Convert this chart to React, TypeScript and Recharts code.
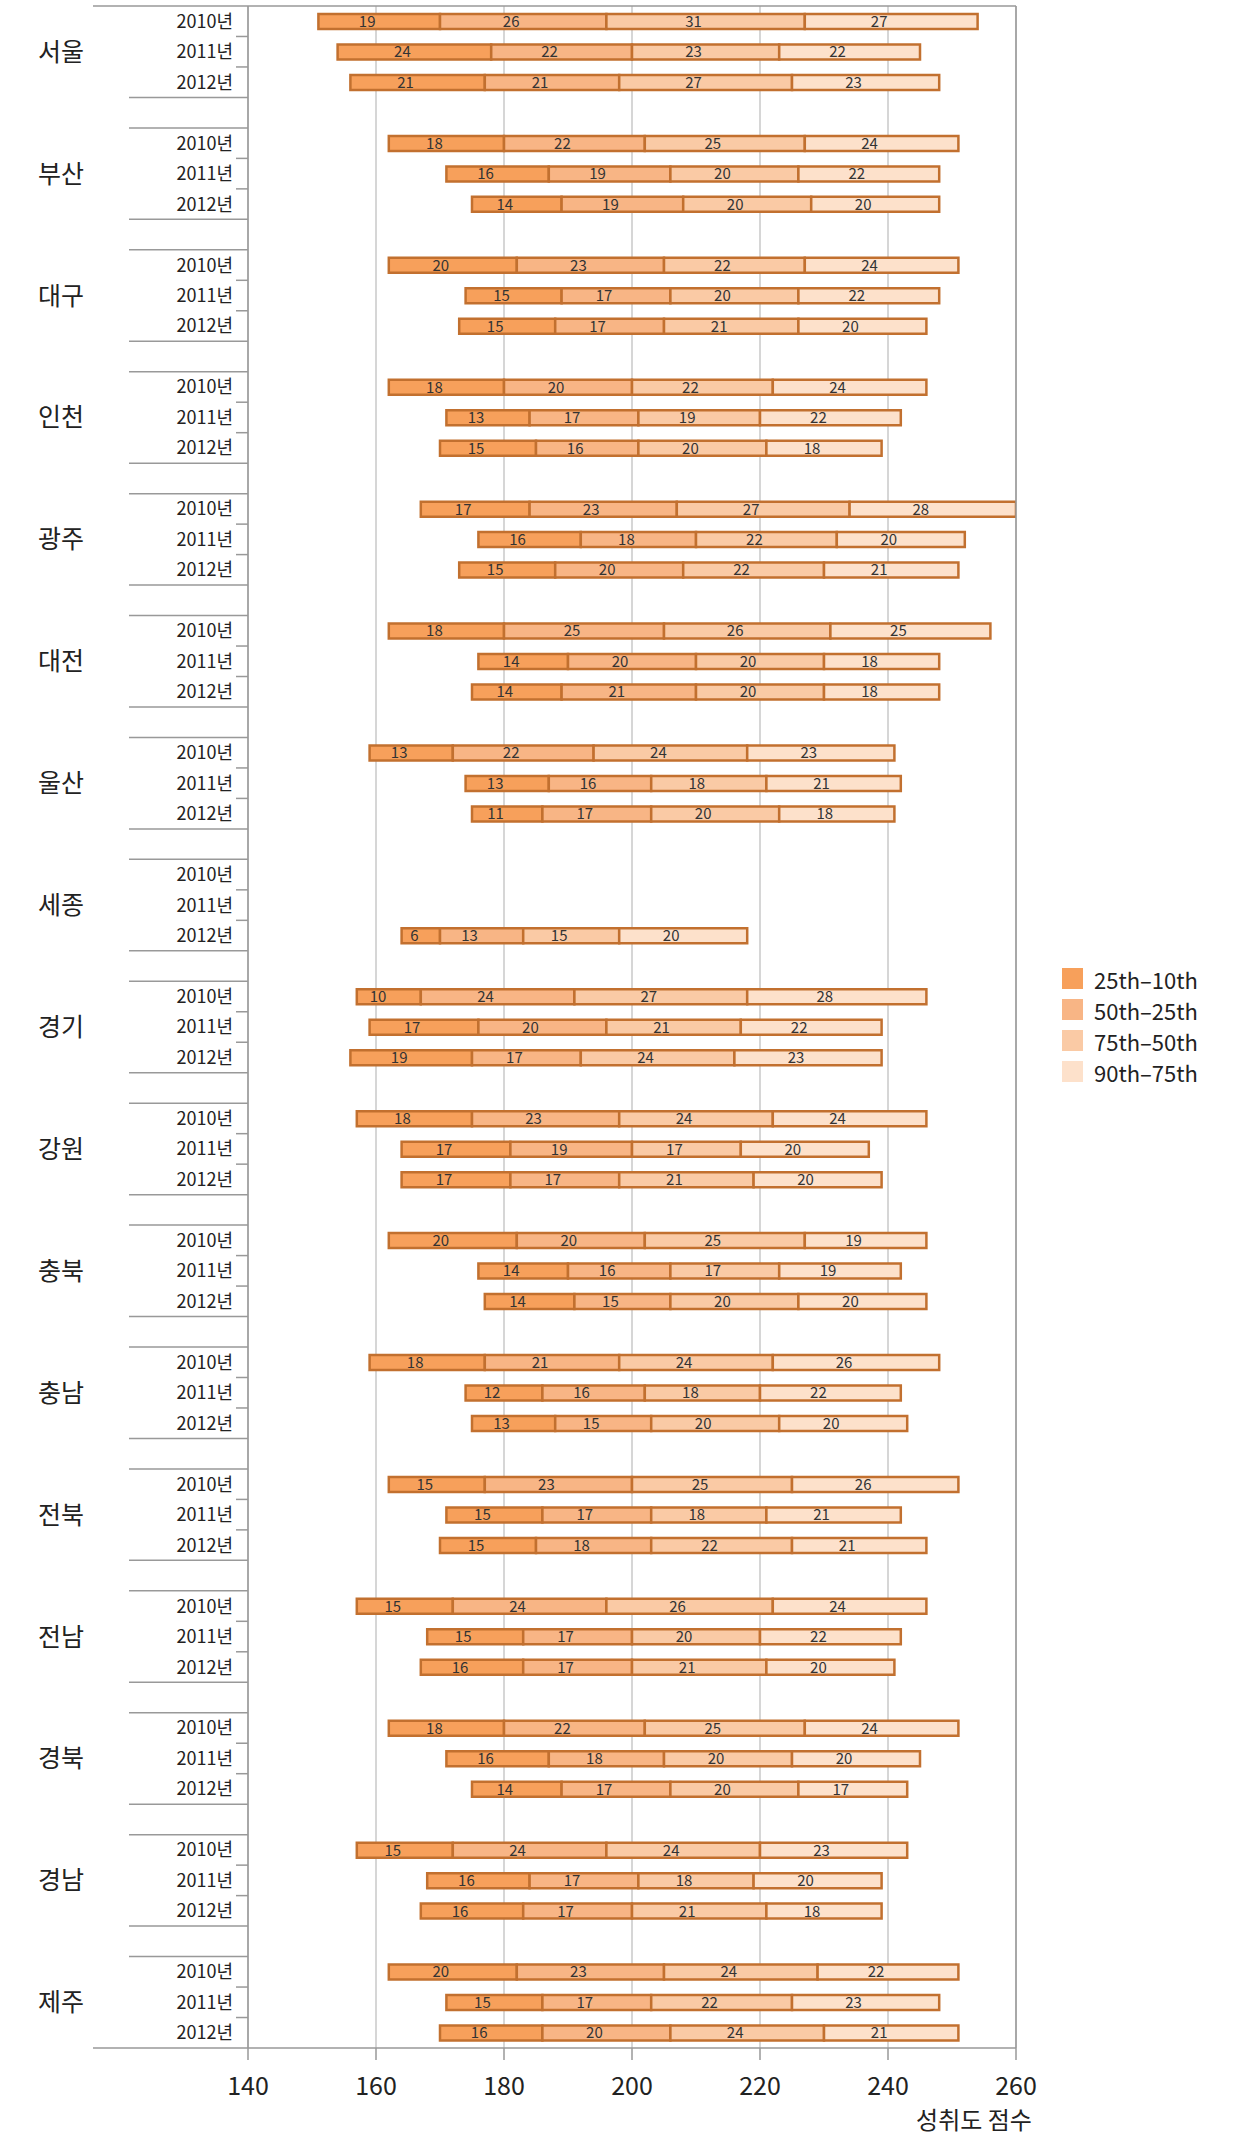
import {
  BarChart,
  Bar,
  XAxis,
  YAxis,
  CartesianGrid,
  ReferenceLine,
  LabelList,
  Legend,
} from 'recharts'

const FONT = '"Noto Sans CJK KR", "Noto Sans", sans-serif'

const regions = ['서울', '부산', '대구', '인천', '광주', '대전', '울산', '세종', '경기', '강원', '충북', '충남', '전북', '전남', '경북', '경남', '제주']
const years = ['2010년', '2011년', '2012년']
const xTicks = [140, 160, 180, 200, 220, 240, 260]

// 10th percentile score (invisible offset), per region per year
const start = [
  [151, 154, 156], [162, 171, 175], [162, 174, 173], [162, 171, 170], [167, 176, 173],
  [162, 176, 175], [159, 174, 175], [null, null, 164], [157, 159, 156], [157, 164, 164],
  [162, 176, 177], [159, 174, 175], [162, 171, 170], [157, 168, 167], [162, 171, 175],
  [157, 168, 167], [162, 171, 170],
]
const p25to10 = [
  [19, 24, 21], [18, 16, 14], [20, 15, 15], [18, 13, 15], [17, 16, 15],
  [18, 14, 14], [13, 13, 11], [null, null, 6], [10, 17, 19], [18, 17, 17],
  [20, 14, 14], [18, 12, 13], [15, 15, 15], [15, 15, 16], [18, 16, 14],
  [15, 16, 16], [20, 15, 16],
]
const p50to25 = [
  [26, 22, 21], [22, 19, 19], [23, 17, 17], [20, 17, 16], [23, 18, 20],
  [25, 20, 21], [22, 16, 17], [null, null, 13], [24, 20, 17], [23, 19, 17],
  [20, 16, 15], [21, 16, 15], [23, 17, 18], [24, 17, 17], [22, 18, 17],
  [24, 17, 17], [23, 17, 20],
]
const p75to50 = [
  [31, 23, 27], [25, 20, 20], [22, 20, 21], [22, 19, 20], [27, 22, 22],
  [26, 20, 20], [24, 18, 20], [null, null, 15], [27, 21, 24], [24, 17, 21],
  [25, 17, 20], [24, 18, 20], [25, 18, 22], [26, 20, 21], [25, 20, 20],
  [24, 18, 21], [24, 22, 24],
]
const p90to75 = [
  [27, 22, 23], [24, 22, 20], [24, 22, 20], [24, 22, 18], [28, 20, 21],
  [25, 18, 18], [23, 21, 18], [null, null, 20], [28, 22, 23], [24, 20, 20],
  [19, 19, 20], [26, 22, 20], [26, 21, 21], [24, 22, 20], [24, 20, 17],
  [23, 20, 18], [22, 23, 21],
]

const series = [
  { key: 'a', name: '25th–10th', color: '#F7A05B' },
  { key: 'b', name: '50th–25th', color: '#F8B585' },
  { key: 'c', name: '75th–50th', color: '#FACAA5' },
  { key: 'd', name: '90th–75th', color: '#FDE1CB' },
]

const rows: any[] = []
regions.forEach((r, i) => {
  if (i > 0) rows.push({ key: `gap|${i}` })
  years.forEach((y, j) => {
    rows.push({
      key: `${r}|${y}`,
      base: start[i][j],
      a: p25to10[i][j],
      b: p50to25[i][j],
      c: p75to50[i][j],
      d: p90to75[i][j],
    })
  })
})

const W = 1240
const H = 2138
const TOP = 6
const LEFT = 248
const RIGHT = 1016
const BOTTOM = 2048
const ROW = (BOTTOM - TOP) / rows.length

const YTick = ({ y, payload, index }: any) => {
  const [name, year] = String(payload.value).split('|')
  const top = y - ROW / 2
  const bot = y + ROW / 2
  if (name === 'gap') {
    return (
      <g>
        <line x1={129} x2={LEFT} y1={top} y2={top} stroke="#999" strokeWidth={1.5} />
        <line x1={129} x2={LEFT} y1={bot} y2={bot} stroke="#999" strokeWidth={1.5} />
      </g>
    )
  }
  return (
    <g>
      {index === 0 && <line x1={93} x2={RIGHT} y1={top} y2={top} stroke="#999" strokeWidth={1.5} />}
      {index === rows.length - 1 && <line x1={93} x2={LEFT} y1={bot} y2={bot} stroke="#999" strokeWidth={1.5} />}
      {year !== '2012년' && <line x1={236} x2={LEFT} y1={bot} y2={bot} stroke="#999" strokeWidth={1.5} />}
      <text x={233} y={y} dy="0.36em" textAnchor="end" fontSize={18} fill="#222" fontFamily={FONT}>
        {year}
      </text>
      {year === '2011년' && (
        <text x={61} y={y} dy="0.36em" textAnchor="middle" fontSize={25} fill="#222" fontFamily={FONT}>
          {name}
        </text>
      )}
    </g>
  )
}

const XTick = ({ x, y, payload }: any) => (
  <g>
    <text x={x} y={y} dy="0.71em" textAnchor="middle" fontSize={25} fill="#222" fontFamily={FONT}>
      {payload.value}
    </text>
    {payload.value === 260 && (
      <text x={x - 42} y={y + 52} textAnchor="middle" fontSize={24} fill="#222" fontFamily={FONT}>
        성취도 점수
      </text>
    )}
  </g>
)

const renderValue = (props: any) => {
  const { x, y, width, height, value } = props
  if (value == null) return null
  const shift = Math.min(12, width / 6)
  return (
    <text
      x={x + width / 2 - shift}
      y={y + height / 2}
      dy="0.36em"
      textAnchor="middle"
      fontSize={15}
      fill="#333"
      fontFamily={FONT}
    >
      {value}
    </text>
  )
}

const LegendBox = () => (
  <div style={{ fontFamily: FONT }}>
    {series.map((s) => (
      <div key={s.key} style={{ display: 'flex', alignItems: 'center', height: 31 }}>
        <div style={{ width: 21, height: 21, background: s.color, marginRight: 11 }} />
        <span style={{ fontSize: 22, color: '#222', whiteSpace: 'nowrap' }}>{s.name}</span>
      </div>
    ))}
  </div>
)

export default function App() {
  return (
    <div style={{ position: 'absolute', left: 0, top: 0, width: W, height: H, background: '#fff' }}>
      <BarChart
        width={W}
        height={H}
        data={rows}
        layout="vertical"
        margin={{ top: TOP, right: W - RIGHT, bottom: 0, left: 0 }}
        barCategoryGap={0}
      >
        <CartesianGrid horizontal={false} stroke="#c8c8c8" strokeWidth={1.5} />
        <XAxis
          type="number"
          domain={[140, 260]}
          ticks={xTicks}
          allowDataOverflow
          height={H - BOTTOM}
          axisLine={{ stroke: '#999', strokeWidth: 1.5 }}
          tickLine={{ stroke: '#999', strokeWidth: 1.5 }}
          tickSize={12}
          tickMargin={17}
          tick={<XTick />}
        />
        <YAxis
          type="category"
          dataKey="key"
          width={LEFT}
          interval={0}
          axisLine={{ stroke: '#999', strokeWidth: 1.5 }}
          tickLine={false}
          tick={<YTick />}
        />
        <ReferenceLine x={260} stroke="#999" strokeWidth={1.5} />
        <Legend
          layout="vertical"
          align="center"
          verticalAlign="middle"
          content={<LegendBox />}
          wrapperStyle={{ left: 1062, top: 963, width: 170 }}
        />
        <Bar dataKey="base" stackId="s" fill="transparent" barSize={15} isAnimationActive={false} legendType="none" />
        {series.map((s) => (
          <Bar
            key={s.key}
            dataKey={s.key}
            name={s.name}
            stackId="s"
            fill={s.color}
            stroke="#C2702F"
            strokeWidth={2.5}
            barSize={15}
            isAnimationActive={false}
          >
            <LabelList dataKey={s.key} content={renderValue} />
          </Bar>
        ))}
      </BarChart>
    </div>
  )
}
